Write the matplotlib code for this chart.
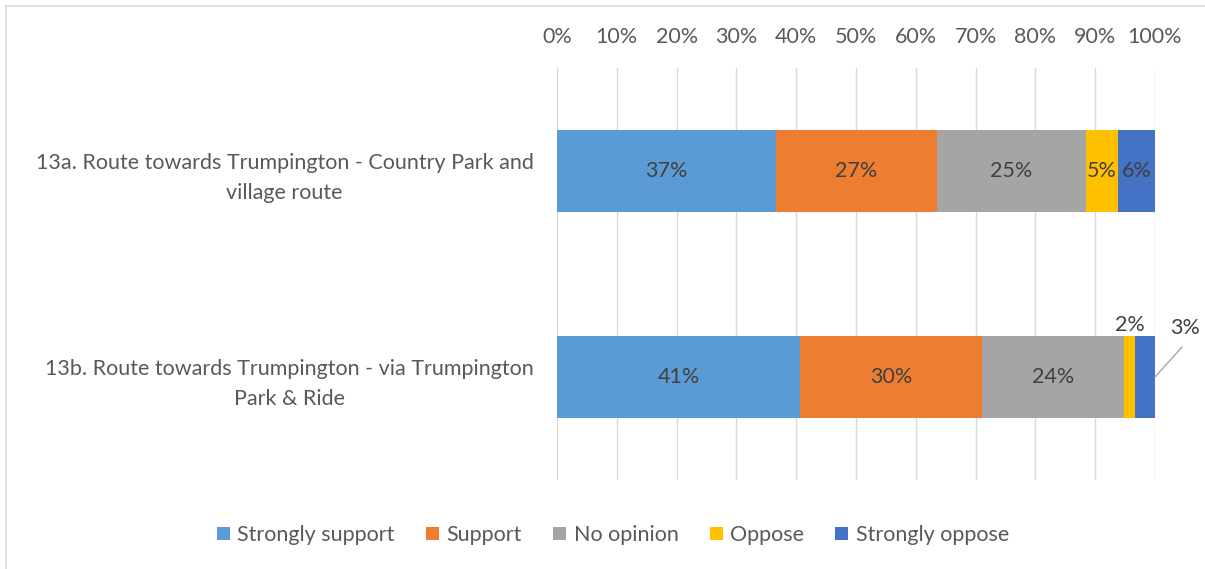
import numpy as np
import matplotlib.pyplot as plt
from matplotlib.patches import Rectangle

plt.rcParams['font.family'] = ['Lato', 'DejaVu Sans']

categories = ['13a. Route towards Trumpington - Country Park and\nvillage route',
              '13b. Route towards Trumpington - via Trumpington\nPark & Ride']
series = ['Strongly support', 'Support', 'No opinion', 'Oppose', 'Strongly oppose']
colors = ['#5B9BD5', '#ED7D31', '#A5A5A5', '#FFC000', '#4472C4']
# percentage shares, first row = 13a, second = 13b
strongly_support = [36.6, 40.7]
support = [26.9, 30.4]
no_opinion = [24.9, 23.7]
oppose = [5.4, 1.9]
strongly_oppose = [6.2, 3.3]
xticks = [0, 10, 20, 30, 40, 50, 60, 70, 80, 90, 100]

values = [strongly_support, support, no_opinion, oppose, strongly_oppose]
ypos = [0.75, 0.25]
txt = '#595959'
fs = 15.5

fig = plt.figure(figsize=(12.05, 5.69), dpi=100)
ax = fig.add_axes([557/1205, 1-480/569, 598/1205, 412/569])

# chart frame
fig.patches.append(Rectangle((6/1205, -0.1), 1.2, 1-6/569+0.1, transform=fig.transFigure,
                             fill=False, edgecolor='#D9D9D9', lw=1.2))

left = np.zeros(2)
rects = []
for s, vals, c in zip(series, values, colors):
    r = ax.barh(ypos, vals, height=0.2, left=left, color=c, label=s, zorder=3)
    rects.append(r)
    left = left + np.array(vals)

# labels inside bars
for i, (vals, r) in enumerate(zip(values, rects)):
    for j, rect in enumerate(r):
        v = vals[j]
        cx = rect.get_x() + rect.get_width()/2
        cy = rect.get_y() + rect.get_height()/2
        lbl = '%.0f%%' % v
        if v >= 4:
            ax.text(cx, cy, lbl, ha='center', va='center', fontsize=fs, color='#404040', zorder=4)
        elif i == 3:
            ax.text(cx, rect.get_y() + rect.get_height() + 0.002, lbl, ha='center', va='bottom',
                    fontsize=fs, color='#404040')
        else:
            # leader line + label outside the bar
            ax.annotate('', xy=(rect.get_x() + rect.get_width(), cy), xytext=(1182, 569-347),
                        textcoords='figure pixels', xycoords='data',
                        arrowprops=dict(arrowstyle='-', color='#A6A6A6', lw=1,
                                        shrinkA=0, shrinkB=0), annotation_clip=False)
            fig.text(1185/1205, 1-328/569, lbl, ha='center', va='center',
                     fontsize=fs, color='#404040')

ax.set_xlim(0, 100)
ax.set_ylim(0, 1)
ax.set_xticks(xticks)
ax.set_xticklabels(['%d%%' % t for t in xticks], fontsize=fs, color=txt)
ax.xaxis.tick_top()
ax.tick_params(axis='x', length=0, pad=15)
ax.set_yticks(ypos)
ax.set_yticklabels(categories, fontsize=fs, color=txt, multialignment='center', linespacing=1.6)
ax.tick_params(axis='y', length=0, pad=17)
ax.grid(axis='x', color='#D9D9D9', lw=1, zorder=0)
for sp in ax.spines.values():
    sp.set_visible(False)

fig.legend(handles=[r[0] for r in rects], labels=series, loc='center',
           bbox_to_anchor=(613/1205, 1-535/569), ncol=5, frameon=False,
           fontsize=fs, labelcolor=txt, handlelength=0.6, handleheight=0.6,
           handletextpad=0.35, columnspacing=1.45)

plt.savefig('out.png', dpi=100)
